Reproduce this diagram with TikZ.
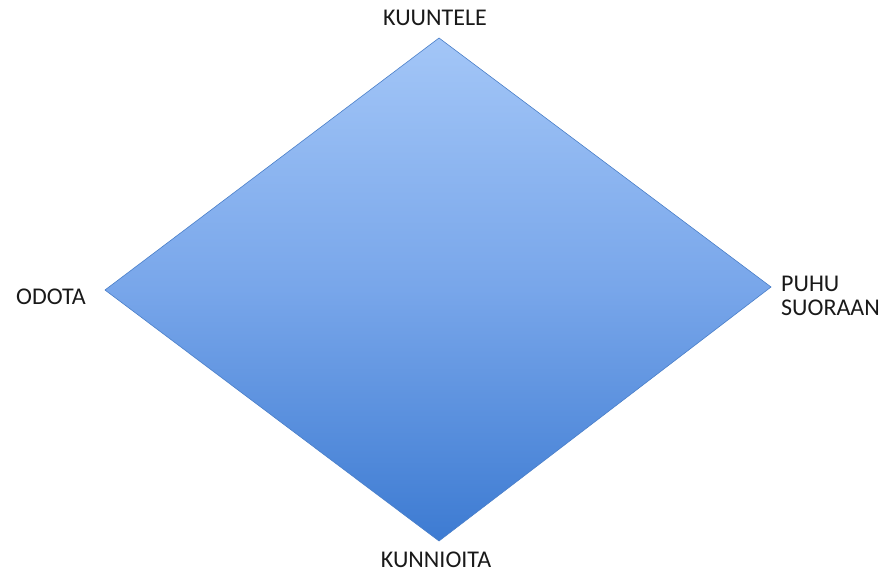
\documentclass[tikz,border=0pt]{standalone}
\usepackage{fontspec}
\setmainfont{Carlito}
\usetikzlibrary{shapes.geometric}
\definecolor{rhombtop}{HTML}{A3C6F7}
\definecolor{rhombmid}{HTML}{78A6EA}
\definecolor{rhombbot}{HTML}{3D7BD2}
\definecolor{rhombline}{HTML}{4A7FC9}
\tikzset{
  corner/.style={font=\fontsize{24}{24}\selectfont, text=black!90, align=left, inner sep=0pt}
}
\begin{document}
\begin{tikzpicture}[x=1pt, y=-1pt]
        \useasboundingbox (0,0) rectangle (884,572);
        % \draw[help lines, gray!50, very thin] (0,0) grid[step=50] (884,572);

        \coordinate (top) at (439,38);
        \coordinate (left) at (105,290);
        \coordinate (right) at (771,287);
        \coordinate (bottom) at (439,541);

        \shade[top color=rhombtop, bottom color=rhombbot, middle color=rhombmid]
          (top) -- (right) -- (bottom) -- (left) -- cycle;
        \draw[rhombline, line width=0.6pt, line join=miter]
          (top) -- (right) -- (bottom) -- (left) -- cycle;

        \node[corner] (listen) at (435,18) {KUUNTELE};
        \node[corner] (wait) at (51,297) {ODOTA};
        \node[corner, anchor=west] (speak) at (781,296) {PUHU\\SUORAAN};
        \node[corner] (respect) at (436,560) {KUNNIOITA};
\end{tikzpicture}
\end{document}
